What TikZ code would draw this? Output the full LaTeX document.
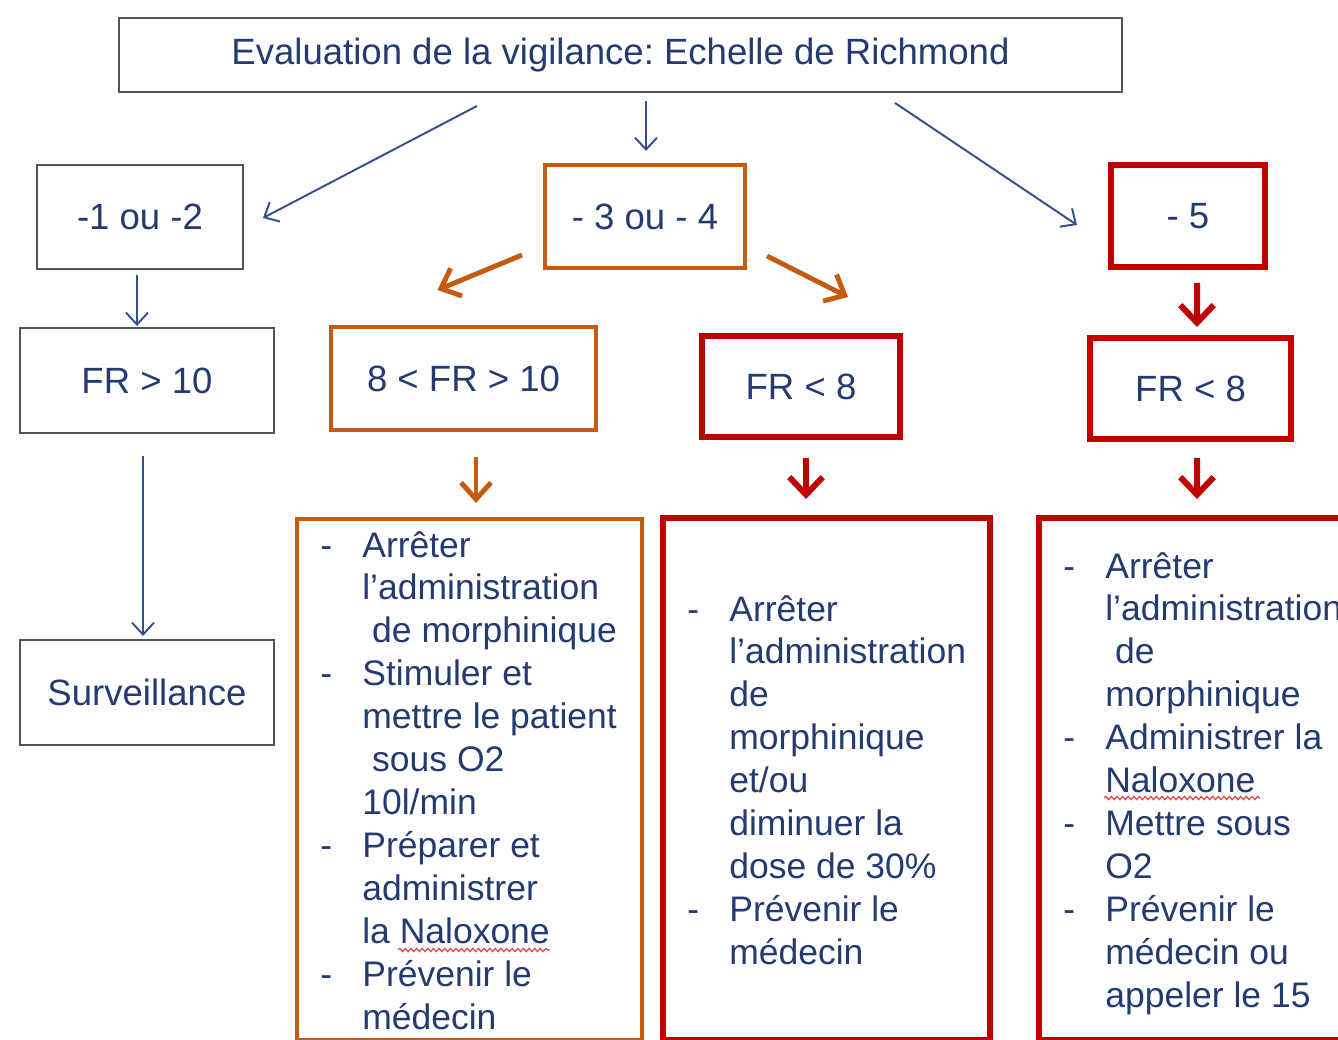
\documentclass[tikz,border=0pt]{standalone}
\usepackage{fontspec}
\setmainfont{Liberation Sans}
\usetikzlibrary{arrows.meta,calc,decorations.pathmorphing}
\frenchspacing
\newlength\px \setlength\px{0.02cm}
\definecolor{txtblue}{RGB}{36,58,112}
\definecolor{arrblue}{RGB}{52,80,140}
\definecolor{boxgray}{RGB}{85,85,85}
\definecolor{orangeA}{RGB}{197,90,17}
\definecolor{redA}{RGB}{192,0,0}
\definecolor{squig}{RGB}{230,70,70}
\tikzset{
  gbox/.style={draw=boxgray, line width=1.1pt, inner sep=0pt, text=txtblue,
    font=\fontsize{20.8pt}{25pt}\selectfont},
  obox/.style={gbox, draw=orangeA, line width=2.3pt},
  rbox/.style={gbox, draw=redA, line width=3.4pt},
  btext/.style={inner sep=0pt, anchor=base west, text=txtblue,
    font=\fontsize{20.2pt}{24.47pt}\selectfont},
  barrow/.style={draw=arrblue, line width=1.1pt, -{Straight Barb[length=6.8pt,width=12.5pt]}},
  oarrow/.style={draw=orangeA, line width=2.8pt, -{Straight Barb[length=9.5pt,width=17pt]}},
  rarrow/.style={draw=redA, line width=3.4pt, -{Straight Barb[length=10pt,width=19pt]}},
  squiggle/.style={draw=squig, line width=0.7pt, decorate,
    decoration={snake, amplitude=0.9pt, segment length=3.2pt}},
}
\begin{document}
\begin{tikzpicture}[x=0.02cm, y=-0.02cm]
\useasboundingbox (0,0) rectangle (1338,1040);
\clip (0,0) rectangle (1338,1040);
% boxes
\node[gbox, minimum width=1003\px, minimum height=74\px] (top) at (620.5,55) {Evaluation de la vigilance: Echelle de Richmond};
\node[gbox, minimum width=206\px, minimum height=104\px] (n12) at (140,217) {-1 ou -2};
\node[obox, minimum width=200\px, minimum height=103\px] (n34) at (645,216.5) {- 3 ou - 4};
\node[rbox, minimum width=154\px, minimum height=102\px] (n5) at (1188,216) {- 5};
\node[gbox, minimum width=254\px, minimum height=105\px] (fr10) at (147,380.5) {FR > 10};
\node[obox, minimum width=265\px, minimum height=103\px] (fr810) at (463.5,378.5) {8 < FR > 10};
\node[rbox, minimum width=198\px, minimum height=101\px] (fr8a) at (801,386.5) {FR < 8};
\node[rbox, minimum width=201\px, minimum height=101\px] (fr8b) at (1190.5,388.5) {FR < 8};
\node[gbox, minimum width=254\px, minimum height=105\px] (surv) at (147,692.5) {Surveillance};
% big boxes
\node[obox, minimum width=345\px, minimum height=521\px] (bo) at (469.5,779.5) {};
\node[rbox, minimum width=327\px, minimum height=522\px] (br1) at (826.5,779) {};
\node[rbox, minimum width=340\px, minimum height=522\px] (br2) at (1209,779) {};
% texts in big boxes
\node[btext] (to) at (320,557) {\begin{tabular}[t]{@{}p{42\px}@{}l@{}}
- & Arrêter\\
  & l’administration\\
  & \ de morphinique\\
- & Stimuler et\\
  & mettre le patient\\
  & \ sous O2\\
  & 10l/min\\
- & Préparer et\\
  & administrer\\
  & la Naloxone\\
- & Prévenir le\\
  & médecin
\end{tabular}};
\node[btext] (tr1) at (687,621) {\begin{tabular}[t]{@{}p{42\px}@{}l@{}}
- & Arrêter\\
  & l’administration\\
  & de\\
  & morphinique\\
  & et/ou\\
  & diminuer la\\
  & dose de 30\%\\
- & Prévenir le\\
  & médecin
\end{tabular}};
\node[btext] (tr2) at (1063,578) {\begin{tabular}[t]{@{}p{42\px}@{}l@{}}
- & Arrêter\\
  & l’administration\\
  & \ de\\
  & morphinique\\
- & Administrer la\\
  & Naloxone\\
- & Mettre sous\\
  & O2\\
- & Prévenir le\\
  & médecin ou\\
  & appeler le 15
\end{tabular}};
% spell-check squiggles
\draw[squiggle] (398,950) -- (550,950);
\draw[squiggle] (1104,798) -- (1260,798);
% arrows
\draw[barrow] ($(top.south)+(-143.5,13)$) -- ($(n12.east)+(19,1)$);
\draw[barrow] ($(top.south -| n34.north)+(1,8)$) -- ($(n34.north)+(1,-12)$);
\draw[barrow] ($(top.south)+(274.5,10)$) -- ($(n5.west)+(-31,9)$);
\draw[barrow] ($(n12.south)+(-3,5)$) -- ($(n12.south)+(-3,56)$);
\draw[barrow] ($(fr10.south)+(-4,22)$) -- ($(surv.north)+(-4,-3)$);
\draw[oarrow] ($(n34.south west)+(-21,-15)$) -- ($(fr810.north)+(-26,-35)$);
\draw[oarrow] ($(n34.south east)+(20,-14)$) -- ($(fr8a.north)+(47,-36)$);
\draw[oarrow] ($(fr810.south)+(12.5,25)$) -- ($(bo.north)+(6.5,-14)$);
\draw[rarrow] ($(fr8a.south)+(5,18)$) -- ($(br1.north)+(-20.5,-16)$);
\draw[rarrow] ($(n5.south)+(9,13)$) -- ($(fr8b.north)+(6.5,-8)$);
\draw[rarrow] ($(fr8b.south)+(6.5,16)$) -- ($(br2.north)+(-12,-16)$);
\end{tikzpicture}
\end{document}
